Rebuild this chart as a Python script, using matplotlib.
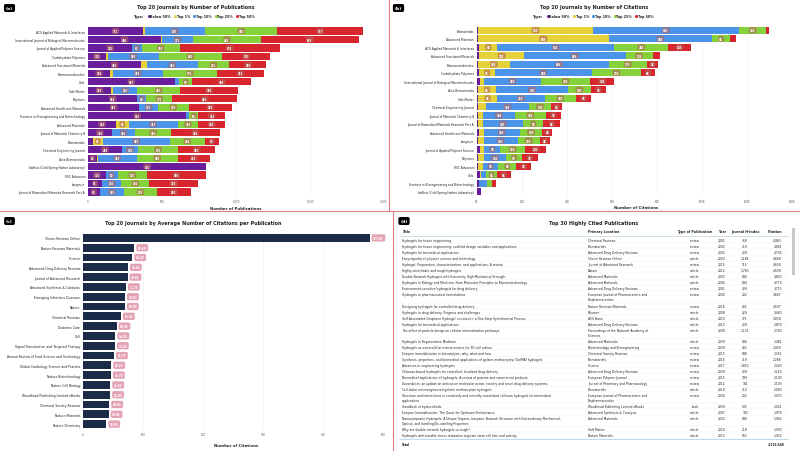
import textwrap
import numpy as np
import matplotlib
matplotlib.use("Agg")
import matplotlib.pyplot as plt
from matplotlib.lines import Line2D
from matplotlib.patches import Rectangle
from matplotlib.ticker import FuncFormatter, MultipleLocator

plt.rcParams['font.family'] = ['DejaVu Sans']

W, H = 800, 452

tiers = ['Below 50%', 'Top 1%', 'Top 10%', 'Top 25%', 'Top 50%']
tier_colors = ['#6a1d9a', '#e5d23a', '#4a94ea', '#86d23c', '#d7262e']

# (a) number of publications per journal, split by citation percentile
pub_journals = ['ACS Applied Materials & Interfaces',
                'International Journal of Biological Macromolecules',
                'Journal of Applied Polymer Science', 'Carbohydrate Polymers',
                'Advanced Functional Materials', 'Biomacromolecules', 'Gels',
                'Soft Matter', 'Polymers', 'Advanced Healthcare Materials',
                'Frontiers in Bioengineering and Biotechnology', 'Advanced Materials',
                'Journal of Materials Chemistry B', 'Biomaterials',
                'Chemical Engineering Journal', 'Acta Biomaterialia',
                'bioRxiv (Cold Spring Harbor Laboratory)', 'RSC Advances', 'Langmuir',
                'Journal of Biomedical Materials Research Part A']
pub_below50 = [372, 494, 300, 120, 360, 150, 587, 155, 334, 347, 665, 190, 160, 34, 230, 63, 800, 120, 95, 80]
pub_top1 = [13, 5, 0, 12, 40, 20, 0, 12, 0, 0, 0, 84, 0, 65, 0, 5, 0, 0, 0, 0]
pub_top10 = [405, 213, 62, 346, 340, 334, 27, 166, 60, 125, 20, 331, 160, 455, 105, 260, 0, 80, 130, 165]
pub_top25 = [490, 455, 258, 430, 216, 370, 92, 290, 175, 210, 60, 140, 240, 234, 275, 280, 0, 200, 190, 219]
pub_top50 = [577, 663, 674, 320, 250, 313, 398, 390, 440, 290, 183, 180, 330, 95, 250, 213, 0, 395, 328, 230]

# (b) number of citations per journal (thousands), same split
cit_journals = ['Biomaterials', 'Advanced Materials', 'ACS Applied Materials & Interfaces',
                'Advanced Functional Materials', 'Biomacromolecules', 'Carbohydrate Polymers',
                'International Journal of Biological Macromolecules', 'Acta Biomaterialia',
                'Soft Matter', 'Chemical Engineering Journal', 'Journal of Materials Chemistry B',
                'Journal of Biomedical Materials Research Part A', 'Advanced Healthcare Materials',
                'Langmuir', 'Journal of Applied Polymer Science', 'Polymers', 'RSC Advances',
                'Gels', 'Frontiers in Bioengineering and Biotechnology',
                'bioRxiv (Cold Spring Harbor Laboratory)']
cit_below50 = [0.5, 0.5, 1, 1, 0.5, 1, 1.3, 0.5, 0.5, 0.5, 0.5, 0.5, 1, 0.5, 1.3, 0.5, 0.5, 1.5, 0.8, 1.8]
cit_top1 = [51, 58, 8, 20, 14, 7, 2, 8, 8.5, 3.5, 2, 2, 2, 2.5, 2, 2.5, 2, 0.5, 0.3, 0]
cit_top10 = [65, 46, 52, 45, 44, 43, 25, 32, 21, 19, 14.5, 18, 16, 15, 7, 10, 7, 2, 3.5, 0]
cit_top25 = [12, 8, 24, 12, 17, 22, 22, 10, 14, 10, 13.5, 9, 10, 10, 11, 7, 8, 5, 2, 0]
cit_top50 = [1.3, 2.7, 10, 3.5, 5, 6, 10.5, 7, 6.7, 4.8, 6.8, 7.5, 4.5, 4.5, 9.5, 7, 6.7, 6, 2, 0]

# (c) average citations per publication
avg_journals = ['Choice Reviews Online', 'Nature Reviews Materials', 'Science',
                'Advanced Drug Delivery Reviews', 'Journal of Advanced Research',
                'Advanced Synthesis & Catalysis', 'Emerging Infectious Diseases', 'Nature',
                'Chemical Reviews', 'Diabetes Care', 'Cell',
                'Signal Transduction and Targeted Therapy',
                'Annual Review of Food Science and Technology',
                'Global Cardiology Science and Practice', 'Nature Biotechnology',
                'Nature Cell Biology', 'Woodhead Publishing Limited eBooks',
                'Chemical Society Reviews', 'Nature Materials', 'Nature Chemistry']
avg_citations = [477.8, 85.6, 82.2, 75.0, 74.4, 71.7, 70.1, 69.9, 63.3, 56.0,
                 54.0, 53.3, 51.7, 47.2, 46.7, 45.6, 45.4, 43.9, 42.8, 38.9]

# (d) top 30 cited publications
tbl_title = ['Hydrogels for tissue engineering',
             'Hydrogels for tissue engineering: scaffold design variables and applications',
             'Hydrogels for biomedical applications',
             'Encyclopedia of polymer science and technology',
             'Hydrogel: Preparation, characterization, and applications: A review',
             'Highly stretchable and tough hydrogels',
             'Double-Network Hydrogels with Extremely High Mechanical Strength',
             'Hydrogels in Biology and Medicine: From Molecular Principles to Bionanotechnology',
             'Environment-sensitive hydrogels for drug delivery',
             'Hydrogels in pharmaceutical formulations',
             'Designing hydrogels for controlled drug delivery',
             'Hydrogels in drug delivery: Progress and challenges',
             'Self-Assembled Graphene Hydrogel <i>via</i> a One-Step Hydrothermal Process',
             'Hydrogels for biomedical applications',
             'The effect of particle design on cellular internalization pathways',
             'Hydrogels in Regenerative Medicine',
             'Hydrogels as extracellular matrix mimics for 3D cell culture',
             'Enzyme immobilization in biocatalysis: why, what and how',
             'Synthesis, properties, and biomedical applications of gelatin methacryloyl (GelMA) hydrogels',
             'Advances in engineering hydrogels',
             'Chitosan-based hydrogels for controlled, localized drug delivery',
             'Biomedical applications of hydrogels: A review of patents and commercial products',
             'Doxorubicin: an update on anticancer molecular action, toxicity and novel drug delivery systems',
             'Cell-laden microengineered gelatin methacrylate hydrogels',
             'Structure and interactions in covalently and ionically crosslinked chitosan hydrogels for biomedical applications',
             'Handbook of hydrocolloids',
             'Enzyme Immobilization: The Quest for Optimum Performance',
             'Nanocomposite Hydrogels: A Unique Organic\u2013Inorganic Network Structure with Extraordinary Mechanical, Optical, and Swelling/De-swelling Properties',
             'Why are double network hydrogels so tough?',
             'Hydrogels with tunable stress relaxation regulate stem cell fate and activity']
tbl_location = ['Chemical Reviews', 'Biomaterials', 'Advanced Drug Delivery Reviews',
                'Choice Reviews Online', 'Journal of Advanced Research', 'Nature',
                'Advanced Materials', 'Advanced Materials', 'Advanced Drug Delivery Reviews',
                'European Journal of Pharmaceutics and Biopharmaceutics',
                'Nature Reviews Materials', 'Polymer', 'ACS Nano',
                'Advanced Drug Delivery Reviews',
                'Proceedings of the National Academy of Sciences', 'Advanced Materials',
                'Biotechnology and Bioengineering', 'Chemical Society Reviews', 'Biomaterials',
                'Science', 'Advanced Drug Delivery Reviews', 'European Polymer Journal',
                'Journal of Pharmacy and Pharmacology', 'Biomaterials',
                'European Journal of Pharmaceutics and Biopharmaceutics',
                'Woodhead Publishing Limited eBooks', 'Advanced Synthesis & Catalysis',
                'Advanced Materials', 'Soft Matter', 'Nature Materials']
tbl_type = ['review', 'review', 'review', 'article', 'review', 'article', 'article', 'article',
            'review', 'review', 'review', 'article', 'article', 'article', 'article', 'article',
            'review', 'review', 'review', 'review', 'review', 'review', 'review', 'article',
            'review', 'book', 'article', 'article', 'article', 'article']
tbl_year = [2001, 2003, 2002, 2003, 2015, 2012, 2003, 2006, 2001, 2000, 2016, 2008, 2010, 2012,
            2008, 2009, 2009, 2013, 2015, 2017, 2009, 2015, 2012, 2010, 2004, 2009, 2007, 2002,
            2010, 2015]
tbl_hindex = [918, 419, 409, 1184, 115, 1765, 694, 694, 409, 202, 232, 329, 371, 409, 1131, 694,
              265, 698, 419, 1852, 409, 199, 181, 419, 202, 145, 183, 694, 218, 561]
tbl_citation = [4963, 4801, 4736, 4668, 4656, 4509, 3853, 3770, 3713, 3667, 3507, 3463, 3058,
                2879, 2763, 2481, 2459, 2351, 2266, 2240, 2210, 2193, 2103, 2083, 2073, 2021,
                1976, 1962, 1933, 1922]
tbl_total = '3,116,648'


def px_rect(l, t, r, b):
    return [l / W, 1 - b / H, (r - l) / W, (b - t) / H]


def fx(x):
    return x / W


def fy(y):
    return 1 - y / H


def style(ax, ylab_size):
    for s in ax.spines.values():
        s.set_visible(False)
    ax.tick_params(axis='y', length=0, pad=2, labelsize=ylab_size, labelcolor='#1f1f1f')
    ax.tick_params(axis='x', length=0, pad=2.2, labelsize=1.9, labelcolor='#605e5c')
    ax.grid(axis='x', color='#d8d8d8', linestyle=(0, (1, 1)), linewidth=0.4)
    ax.set_axisbelow(True)


def stacked(ax, names, parts, fmt, min_label):
    y = np.arange(len(names))
    left = np.zeros(len(names))
    for vals, col in zip(parts, tier_colors):
        vals = np.asarray(vals, dtype=float)
        ax.barh(y, vals, left=left, height=0.84, color=col, linewidth=0)
        for i in y:
            if vals[i] >= min_label:
                ax.text(left[i] + vals[i] / 2, i, fmt(vals[i]), ha='center', va='center',
                        fontsize=1.8, color='white', fontweight='bold',
                        bbox=dict(boxstyle='round,pad=0.45,rounding_size=0.6',
                                  fc='#b4645a', ec='none', alpha=0.6))
        left += vals
    ax.set_ylim(len(names) - 0.5, -0.5)
    ax.set_yticks(y, names)
    style(ax, 2.1)


def tier_legend(cx, cy):
    handles = [Line2D([], [], linestyle='none', marker='')]
    handles += [Line2D([], [], linestyle='none', marker='o', markersize=2.2,
                       markerfacecolor=c, markeredgewidth=0) for c in tier_colors]
    leg = fig.legend(handles, ['Type:'] + tiers, loc='center', bbox_to_anchor=(fx(cx), fy(cy)),
                     ncol=6, frameon=False, fontsize=2.4, handlelength=0.6,
                     handletextpad=0.25, columnspacing=0.9, borderpad=0)
    for t in leg.get_texts():
        t.set_fontweight('bold')
        t.set_color('#252423')


def tag(x, y, s):
    fig.text(fx(x), fy(y), s, ha='center', va='center', fontsize=3.2, color='white',
             fontweight='bold',
             bbox=dict(boxstyle='round,pad=0.45,rounding_size=0.4', fc='black', ec='none'))


fig = plt.figure(figsize=(8, 4.52), dpi=100)

# panel dividers
line_kw = dict(color='#e27a86', linewidth=0.8)
fig.add_artist(Line2D([fx(389), fx(389)], [fy(0), fy(212)], **line_kw))
fig.add_artist(Line2D([0, 1], [fy(212), fy(212)], **line_kw))
fig.add_artist(Line2D([fx(393), fx(393)], [fy(212), fy(452)], **line_kw))

# ---- (a)
ax_a = fig.add_axes(px_rect(88, 27.8, 384, 197.2))
stacked(ax_a, pub_journals, [pub_below50, pub_top1, pub_top10, pub_top25, pub_top50],
        lambda v: f'{v:.0f}', 50)
ax_a.set_xlim(0, 2000)
ax_a.xaxis.set_major_locator(MultipleLocator(500))
ax_a.xaxis.set_major_formatter(FuncFormatter(lambda v, p: f'{v:,.0f}'))
fig.text(fx(196), fy(7), 'Top 20 Journals by Number of Publications', ha='center',
         va='center', fontsize=3.5, fontweight='bold', color='#252423')
tier_legend(193, 17)
fig.text(fx(236), fy(209.5), 'Number of Publications', ha='center', va='center',
         fontsize=2.8, fontweight='bold', color='#252423')
tag(9.5, 9, '(a)')

# ---- (b)
ax_b = fig.add_axes(px_rect(477, 27, 792, 197))
stacked(ax_b, cit_journals, [cit_below50, cit_top1, cit_top10, cit_top25, cit_top50],
        lambda v: f'{v:.0f}K', 4)
ax_b.set_xlim(0, 140)
ax_b.xaxis.set_major_locator(MultipleLocator(20))
ax_b.xaxis.set_major_formatter(FuncFormatter(lambda v, p: f'{v:.0f}K'))
fig.text(fx(594), fy(7), 'Top 20 Journals by Number of Citations', ha='center',
         va='center', fontsize=3.5, fontweight='bold', color='#252423')
tier_legend(592, 17)
fig.text(fx(636), fy(208), 'Number of Citations', ha='center', va='center',
         fontsize=2.8, fontweight='bold', color='#252423')
tag(398.5, 9, '(b)')

# ---- (c)
ax_c = fig.add_axes(px_rect(83, 234, 383, 430))
yc = np.arange(len(avg_journals))
ax_c.barh(yc, avg_citations, height=0.8, color='#1b2a47', linewidth=0)
for i, v in zip(yc, avg_citations):
    ax_c.text(v + 6, i, f'{v:.2f}', ha='left', va='center', fontsize=2.0, color='white',
              fontweight='bold',
              bbox=dict(boxstyle='round,pad=0.6,rounding_size=0.6', fc='#e4a3b4', ec='none'))
ax_c.set_ylim(len(avg_journals) - 0.5, -0.5)
ax_c.set_yticks(yc, avg_journals)
ax_c.set_xlim(0, 500)
ax_c.xaxis.set_major_locator(MultipleLocator(100))
style(ax_c, 2.25)
fig.text(fx(193), fy(223), 'Top 20 Journals by Average Number of Citations per Publication',
         ha='center', va='center', fontsize=3.5, fontweight='bold', color='#252423')
fig.text(fx(236), fy(446), 'Number of Citations', ha='center', va='center',
         fontsize=2.8, fontweight='bold', color='#252423')
tag(9.5, 222, '(c)')

# ---- (d) table
ax_d = fig.add_axes(px_rect(396, 214, 800, 452))
ax_d.set_xlim(396, 800)
ax_d.set_ylim(452, 214)
ax_d.axis('off')
fig.text(fx(594), fy(223), 'Top 30 Highly Cited Publications', ha='center', va='center',
         fontsize=3.5, fontweight='bold', color='#252423')
tag(404, 222, '(d)')

txt = dict(fontsize=2.15, color='#252423', va='center')
hdr = dict(fontsize=2.3, color='#252423', va='center', fontweight='bold')
col_title, col_loc, col_type, col_year, col_h, col_cit = 402, 588, 695, 722, 745, 782
ax_d.text(col_title, 232, 'Title', ha='left', **hdr)
ax_d.text(col_loc, 232, 'Primary Location', ha='left', **hdr)
ax_d.text(col_type, 232, 'Type of Publication', ha='center', **hdr)
ax_d.text(col_year, 232, 'Year', ha='center', **hdr)
ax_d.text(col_h, 232, 'Journal H-index', ha='center', **hdr)
ax_d.text(col_cit, 232, 'Citation', ha='right', **hdr)
ax_d.plot([399, 788], [237, 237], color='#b9d3e0', linewidth=0.5)

top = 238.0
for i in range(len(tbl_title)):
    tl = textwrap.wrap(tbl_title[i], 100)
    ll = textwrap.wrap(tbl_location[i], 40)
    n = max(len(tl), len(ll))
    hgt = 6.05 + 5.0 * (n - 1)
    for k, s in enumerate(tl):
        ax_d.text(col_title, top + 3 + 5 * k, s, ha='left', **txt)
    for k, s in enumerate(ll):
        ax_d.text(col_loc, top + 3 + 5 * k, s, ha='left', **txt)
    ax_d.text(col_type, top + 3, tbl_type[i], ha='center', **txt)
    ax_d.text(col_year, top + 3, str(tbl_year[i]), ha='center', **txt)
    ax_d.text(col_h, top + 3, f'{tbl_hindex[i]:,}', ha='center', **txt)
    ax_d.text(col_cit, top + 3, f'{tbl_citation[i]:,}', ha='right', **txt)
    top += hgt
    ax_d.plot([399, 788], [top, top], color='#eeeeee', linewidth=0.3)

ax_d.plot([399, 788], [top, top], color='#a9cbe0', linewidth=0.5)
ax_d.text(col_title, top + 5, 'Total', ha='left', fontsize=2.15, color='#252423',
          va='center', fontweight='bold')
ax_d.text(785, top + 5, tbl_total, ha='right', fontsize=2.15, color='#252423', va='center',
          fontweight='bold')
ax_d.add_patch(Rectangle((792, 229), 3, 47, color='#c8c8c8', linewidth=0))

fig.savefig('out.png', dpi=100)
